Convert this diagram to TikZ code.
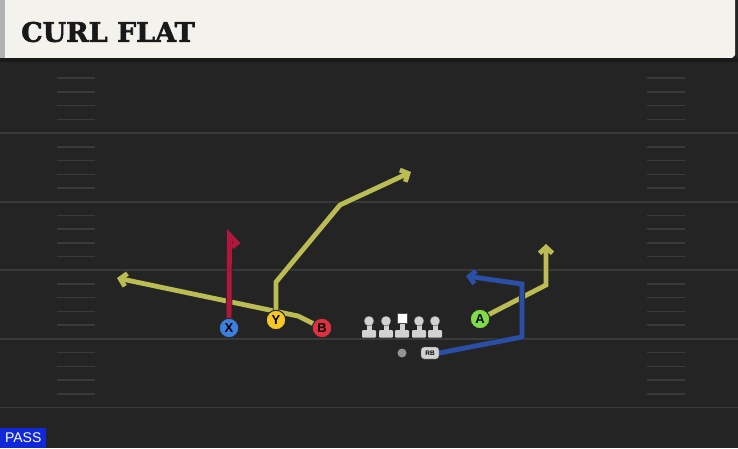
\documentclass[tikz,border=0pt]{standalone}
\usepackage{fontspec}
\usepackage{tikz}
\usepackage{xcolor}
\usetikzlibrary{arrows.meta, positioning}
\newfontfamily\titlefont[FakeBold=2]{DejaVu Serif}
\newfontfamily\tagfont{Liberation Sans}
\definecolor{field}{HTML}{242424}
\definecolor{yardgray}{HTML}{3A3A3A}
\definecolor{cream}{HTML}{F4F2EC}
\definecolor{routeyellow}{HTML}{BCBC55}
\definecolor{routeblue}{HTML}{2B4EA6}
\definecolor{routered}{HTML}{B0173A}
\definecolor{xblue}{HTML}{3D7FE0}
\definecolor{yyellow}{HTML}{F4C825}
\definecolor{bred}{HTML}{E03040}
\definecolor{agreen}{HTML}{7FDC45}
\definecolor{olgray}{HTML}{D2D2D2}
\definecolor{passblue}{HTML}{1028D8}
\pgfdeclarelayer{turf}
\pgfdeclarelayer{paths}
\pgfsetlayers{turf,paths,main}

\begin{document}
\begin{tikzpicture}[
        x=1pt, y=-1pt,
        > = {Straight Barb[length=6pt, width=13pt]}, % arrow head style
        route/.style={line width=4.8pt, line join=miter, ->,
            preaction={draw=black!85, line width=6.4pt}},
        player/.style={circle, draw=black!85, line width=1pt,
            minimum size=19.5pt, inner sep=0pt,
            font=\tagfont\bfseries\fontsize{13}{13}\selectfont},
        yard/.style={draw=yardgray, line width=1.8pt},
        hash/.style={draw=yardgray, line width=1.5pt}
    ]
        \useasboundingbox (0,0) rectangle (738,448);
        \begin{pgfonlayer}{turf}
        \fill[field] (0,0) rectangle (738,448);

        % header
        \fill[cream] (0,0) -- (735,0) -- (735,55) -- (732,58) -- (0,58) -- cycle;
        \fill[gray!60] (0,0) rectangle (5,58);
        \fill[black!90] (0,58) rectangle (738,62);

        % field markings
        \foreach \j in {1,...,5}
            \draw[yard] (0,64.5+68.6*\j) -- (738,64.5+68.6*\j);
        \foreach \k in {1,...,24} {
            \pgfmathtruncatemacro\r{mod(\k,5)}
            \ifnum\r>0
                \draw[hash] (57,64.5+13.72*\k) -- ++(38,0);
                \draw[hash] (647,64.5+13.72*\k) -- ++(38,0);
            \fi
        }
        \end{pgfonlayer}

        \node[anchor=west, font=\titlefont\bfseries\fontsize{27}{27}\selectfont,
            text=black!90, inner sep=0pt] (title) at (21,32) {CURL FLAT};

        % line
        \foreach \x/\n in {369/lt, 386/lg, 419/rg, 435/rt} {
            \fill[olgray] (\x-2.5,323) rectangle (\x+2.5,331);
            \fill[olgray, rounded corners=1pt] (\x-7,330) rectangle (\x+7,337.5);
            \node[circle, fill=olgray, draw=black!70, inner sep=0pt,
                minimum size=10pt] (\n) at (\x,321) {};
        }
        \fill[olgray] (399.5,322) rectangle (404.5,331);
        \fill[olgray, rounded corners=1pt] (395,330) rectangle (409,337.5);
        \node[rectangle, fill=white, draw=black!70, inner sep=0pt,
            minimum size=10pt] (c) at (402,318) {};
        \node[circle, fill=gray!85, inner sep=0pt, minimum size=9pt] (qb) at (402,353) {};

        % players
        \node[player, fill=xblue] (X) at (229,328) {X};
        \node[player, fill=yyellow] (Y) at (276,320) {Y};
        \node[player, fill=bred] (B) at (322,328) {B};
        \node[player, fill=agreen] (A) at (480,319) {A};
        \node[rectangle, rounded corners=3pt, fill=olgray, draw=black!70,
            minimum width=18pt, minimum height=12pt, inner sep=0pt,
            font=\tagfont\bfseries\fontsize{6.5}{6.5}\selectfont] (rb) at (430,353) {RB};

        % routes
        \coordinate (ytop) at (276,282);
        \coordinate (ybreak) at (340,205);
        \coordinate (yend) at (411,172);
        \coordinate (bbend) at (298,316);
        \coordinate (bend) at (117,278);
        \coordinate (abend) at (546,285);
        \coordinate (aend) at (546,244);
        \coordinate (rbcut) at (522,337);
        \coordinate (rbtop) at (522,284);
        \coordinate (rbend) at (466,276);
        \coordinate (xtop) at (229.5,235);
        \coordinate (xhook) at (237,243);
        \coordinate (xend) at (232,247);

        \begin{pgfonlayer}{paths}
        \draw[route, draw=routeyellow] (B.center) -- (bbend) -- (bend);
        \draw[route, draw=routeyellow] (Y.center) -- (ytop) -- (ybreak) -- (yend);
        \draw[route, draw=routeyellow] (A.center) -- (abend) -- (aend);
        \draw[route, draw=routeblue] (rb.east) -- (rbcut) -- (rbtop) -- (rbend);
        \draw[route, -, draw=routered] (X.center) -- (xtop) -- (xhook) -- (xend);
        \end{pgfonlayer}

        % play type
        \node[anchor=south west, fill=passblue, text=white, inner xsep=3pt,
            inner ysep=2pt, minimum height=20pt, minimum width=46pt,
            font=\tagfont\fontsize{14}{14}\selectfont] (tag) at (0,448) {PASS};
    \end{tikzpicture}
\end{document}
